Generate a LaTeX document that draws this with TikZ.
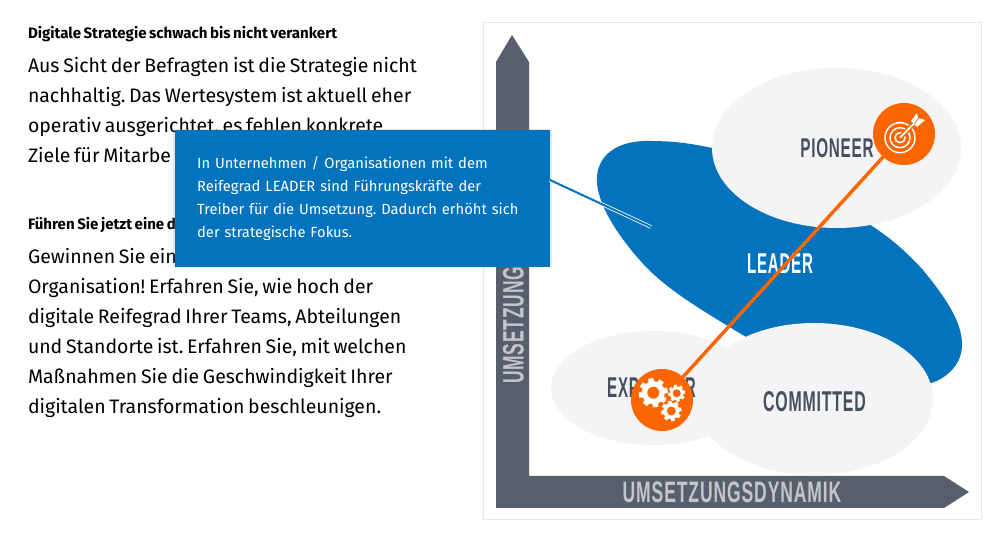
\documentclass[tikz,border=0pt]{standalone}
\usepackage{fontspec}
\usepackage{graphicx}
\usetikzlibrary{shadows}
\setmainfont[WordSpace=0.72]{Fira Sans}
\frenchspacing
\definecolor{slatec}{HTML}{565F6B}
\definecolor{bluec}{HTML}{0273BC}
\definecolor{palec}{HTML}{F4F4F6}
\definecolor{orangec}{HTML}{FB6600}
\definecolor{inkc}{HTML}{474E5C}
\definecolor{axislabel}{HTML}{C3C6CB}
\newcommand{\fit}[3]{\resizebox{#1pt}{#2pt}{\fontspec[LetterSpace=5]{Liberation Sans}\bfseries #3}}
\tikzset{
  every node/.style={inner sep=0pt,outer sep=0pt},
  bodytext/.style={anchor=north west,align=left,font=\fontsize{14.6pt}{22.5pt}\selectfont\frenchspacing,text=black},
  headtext/.style={anchor=west,font=\fontsize{11.3pt}{13pt}\selectfont\bfseries,text=black},
  zone/.style={fill=palec},
  medal/.style={circle,fill=orangec,minimum size=46.5pt},
  iconline/.style={draw=white,line width=1.1pt,fill=none},
  gearhole/.style={fill=orangec},
  gearbody/.style={fill=white}
}
\newcommand{\gear}[4]{% x,y,outer,inner radius
  \foreach \a in {0,45,...,315}{
    \fill[gearbody,shift={(#1,#2)},rotate=\a+10] (-#3*0.24,0) -- (-#3*0.18,-#3) -- (#3*0.18,-#3) -- (#3*0.24,0) -- cycle;
  }
  \fill[gearbody] (#1,#2) circle[radius=#3*0.8];
  \fill[gearhole] (#1,#2) circle[radius=#4];
}
\begin{document}
\begin{tikzpicture}[x=0.75pt,y=-0.75pt]
\useasboundingbox (0,0) rectangle (1000,541);
\fill[white] (0,0) rectangle (1000,541);
% left text
\node[headtext] (h1) at (28,34) {Digitale Strategie schwach bis nicht verankert};
\node[bodytext] (p1) at (28,57.5) {Aus Sicht der Befragten ist die Strategie nicht\\nachhaltig. Das Wertesystem ist aktuell eher\\operativ ausgerichtet, es fehlen konkrete\\Ziele für Mitarbe};
\node[headtext] (h2) at (28,225) {Führen Sie jetzt eine d};
\node[bodytext] (p2) at (28,248.5) {Gewinnen Sie ein\\Organisation! Erfahren Sie, wie hoch der\\digitale Reifegrad Ihrer Teams, Abteilungen\\und Standorte ist. Erfahren Sie, mit welchen\\Maßnahmen Sie die Geschwindigkeit Ihrer\\digitalen Transformation beschleunigen.};
% frame
\draw[draw=black!9,line width=0.75pt] (483.5,22.5) rectangle (981,520);
% axes
\fill[slatec] (512,35) -- (529,62) -- (529,476) -- (944,476) -- (969,492) -- (944,508) -- (496,508) -- (496,62) -- cycle;
\node[rotate=90,anchor=west,text=axislabel] (yl) at (513.5,384) {\fit{88}{15.5}{UMSETZUNG}};
\node[text=axislabel] (xl) at (732,492.5) {\fit{164}{15.5}{UMSETZUNGSDYNAMIK}};
% zones
\fill[bluec] (597,183) .. controls (595,155) and (618,140) .. (650,141)
  .. controls (680,141) and (700,145) .. (730,152) -- (850,210) -- (872,226)
  .. controls (895,241) and (910,256) .. (923,270)
  .. controls (945,297) and (961,320) .. (962,343)
  .. controls (963,365) and (945,379) .. (931,383)
  -- (800,350) -- (746,337)
  .. controls (705,312) and (672,293) .. (647,268)
  .. controls (625,245) and (599,210) .. (597,183) -- cycle;
\fill[zone] (836.5,148) ellipse[x radius=124.5,y radius=80];
\fill[zone] (653,388) ellipse[x radius=102,y radius=57];
\fill[zone] (814,399) ellipse[x radius=119,y radius=76];
\node[text=inkc] (pioneer) at (837,148.5) {\fit{55}{14.2}{PIONEER}};
\node[text=white] (leader) at (780,264) {\fit{49.5}{14.8}{LEADER}};
\node[text=inkc] (explorer) at (651.5,388) {\fit{66.5}{15}{EXPLORER}};
\node[text=inkc] (committed) at (814.5,402) {\fit{77}{15}{COMMITTED}};
% medals
\node[medal] (target) at (904,134) {};
\node[medal] (gears) at (662,400) {};
\draw[orangec,line width=2.6pt] (target) -- (gears);
% target icon
\draw[iconline] (900,137.7) circle[radius=15];
\draw[iconline] (900,137.7) circle[radius=10];
\draw[iconline] (900,137.7) circle[radius=5];
\draw[orangec,line width=3.6pt] (900,137.7) -- (916,121.5);
\draw[white,line width=1.3pt] (900,137.7) -- (916,121.5);
\fill[white] (911,121) -- (917,113) -- (918,118) -- (925,120) -- (917,127) -- (915,125) -- cycle;
\draw[orangec,line width=0.5pt] (914,124) -- (920,117);
% gears
\gear{653.3}{392.7}{14.5}{6}
\gear{676.7}{393.3}{8.5}{4}
\gear{671.3}{411}{10.2}{4.5}
% popup
\coordinate (tipend) at (651,227);
\node[anchor=north west,fill=bluec,drop shadow={opacity=.18,shadow xshift=0pt,shadow yshift=0pt,shadow scale=1.01},
  minimum width=281.25pt,minimum height=102.4pt,text width=248pt,inner xsep=16.5pt,align=left,text=white,
  font=\fontsize{11.05pt}{17.25pt}\selectfont\frenchspacing] (popup) at (175,130)
  {In Unternehmen / Organisationen mit dem\\Reifegrad LEADER sind Führungskräfte der\\Treiber für die Umsetzung. Dadurch erhöht sich\\der strategische Fokus.};
\coordinate (tipstart) at (550,180);
\draw[white,line width=2.7pt] (tipstart) -- (tipend);
\draw[bluec,line width=1.5pt] (tipstart) -- (tipend);
\end{tikzpicture}
\end{document}
